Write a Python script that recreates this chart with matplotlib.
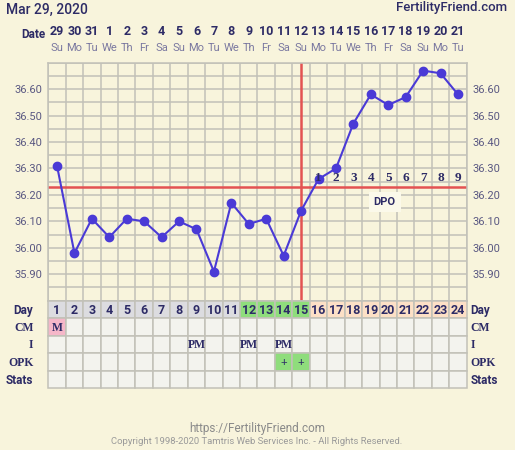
import matplotlib
matplotlib.use('Agg')
import matplotlib.pyplot as plt
from matplotlib.patches import Rectangle
from matplotlib.transforms import blended_transform_factory

# chart data
days = list(range(1, 25))
dates = ['29', '30', '31', '1', '2', '3', '4', '5', '6', '7', '8', '9',
         '10', '11', '12', '13', '14', '15', '16', '17', '18', '19', '20', '21']
weekdays = ['Su', 'Mo', 'Tu', 'We', 'Th', 'Fr', 'Sa'] * 3 + ['Su', 'Mo', 'Tu']
temps = [36.31, 35.98, 36.11, 36.04, 36.11, 36.10, 36.04, 36.10, 36.07, 35.91,
         36.17, 36.09, 36.11, 35.97, 36.14, 36.26, 36.30, 36.47, 36.58, 36.54,
         36.57, 36.67, 36.66, 36.58]
coverline = 36.23
ovulation_day = 15
dpo = list(range(1, 10))
ytick_vals = [35.90, 36.00, 36.10, 36.20, 36.30, 36.40, 36.50, 36.60]
row_names = ['Day', 'CM', 'I', 'OPK', 'Stats']
fertile_days = [12, 13, 14, 15]
cm_marks = {1: 'M'}
intercourse = {9: 'PM', 12: 'PM', 14: 'PM'}
opk = {14: '+', 15: '+'}

W, H = 515, 450
BG = '#f8f4dc'
GRID = '#c2c1b8'
NAVY = '#2d2b66'
LABEL = '#5a5882'
RED = '#e35252'
LINE = '#4a3ad6'
SANS = ['Roboto', 'DejaVu Sans']
SERIF = ['Liberation Serif', 'DejaVu Serif']

plt.rcParams['font.family'] = SANS

def rect(x0, y0, x1, y1):
    return [x0 / W, 1 - y1 / H, (x1 - x0) / W, (y1 - y0) / H]

fig = plt.figure(figsize=(W / 100, H / 100), dpi=100, facecolor=BG)

# main temperature chart
ax = fig.add_axes(rect(48.3, 62.7, 466.7, 300.7))
ax.set_facecolor(BG)
ax.set_xlim(0.5, 24.5)
ax.set_ylim(35.80, 36.70)
for x in [d + 0.5 for d in range(0, 25)]:
    ax.axvline(x, color=GRID, lw=1.1, zorder=1)
k = 0
while 35.80 + k * 0.05 <= 36.7001:
    ax.axhline(35.80 + k * 0.05, color=GRID, lw=1.1, zorder=1)
    k += 1
for s in ax.spines.values():
    s.set_color(GRID)
    s.set_linewidth(1.1)
ax.set_xticks([])
ax.set_yticks(ytick_vals)
ax.set_yticklabels(['%.2f' % v for v in ytick_vals])
ax.tick_params(axis='y', length=0, pad=4, labelsize=8, labelcolor=LABEL,
               left=True, right=True, labelleft=True, labelright=True)

ax.axhline(coverline, color=RED, lw=1.8, zorder=2)
ax.axvline(ovulation_day, color=RED, lw=1.8, zorder=2)
ax.plot(days, temps, color=LINE, lw=1.5, marker='o', markersize=6, zorder=3)

for i, n in enumerate(dpo):
    ax.text(ovulation_day + 1 + i, coverline + 0.035, str(n), ha='center', va='center',
            fontsize=9.5, fontweight='bold', family=SERIF, color=NAVY, zorder=4)
ax.text(19.8, coverline - 0.055, 'DPO', ha='center', va='center', fontsize=8,
        fontweight='bold', color=NAVY, zorder=4,
        bbox=dict(boxstyle='square,pad=0.45', facecolor='#fbf9ea', edgecolor='none'))

# header rows
tr = blended_transform_factory(ax.transData, fig.transFigure)
for d, lab, wd in zip(days, dates, weekdays):
    ax.text(d, 1 - 31.7 / H, lab, transform=tr, ha='center', va='center',
            fontsize=9, fontweight='bold', color=NAVY)
    ax.text(d, 1 - 48.3 / H, wd, transform=tr, ha='center', va='center',
            fontsize=8, color='#7a78a0')
fig.text(45 / W, 1 - 34 / H, 'Date', ha='right', va='center', fontsize=8.5,
         fontweight='bold', color=NAVY)
fig.text(6 / W, 1 - 10 / H, 'Mar 29, 2020', ha='left', va='center', fontsize=10,
         fontweight='medium', color=NAVY)
fig.text(507 / W, 1 - 8 / H, 'FertilityFriend.com', ha='right', va='center',
         fontsize=9.5, fontweight='medium', color=NAVY)

# table below chart
tab = fig.add_axes(rect(48.3, 300.7, 466.7, 388))
tab.set_xlim(0.5, 24.5)
tab.set_ylim(len(row_names), 0)
tab.axis('off')
for r, name in enumerate(row_names):
    for d in days:
        fc = '#f3f3ee'
        txt = ''
        if name == 'Day':
            fc = '#8fdd7c' if d in fertile_days else ('#fde0c6' if d > ovulation_day else '#dcdce0')
            txt = str(d)
        elif name == 'CM' and d in cm_marks:
            fc = '#f5b7c9'
            txt = cm_marks[d]
        elif name == 'I' and d in intercourse:
            txt = intercourse[d]
        elif name == 'OPK' and d in opk:
            fc = '#8fdd7c'
            txt = opk[d]
        tab.add_patch(Rectangle((d - 0.5, r), 1, 1, facecolor=fc, edgecolor=GRID,
                                lw=1.1, clip_on=False))
        if txt:
            if name == 'Day':
                tab.text(d, r + 0.55, txt, ha='center', va='center', fontsize=9,
                         fontweight='bold', color=NAVY)
            else:
                tab.text(d, r + 0.55, txt, ha='center', va='center', fontsize=8.5,
                         fontweight='bold', family=SERIF, color=NAVY)
    fam = SANS if name in ('Day', 'Stats') else SERIF
    tab.text(-0.35, r + 0.55, name, ha='right', va='center', fontsize=8.5,
             fontweight='bold', family=fam, color=NAVY)
    tab.text(24.7, r + 0.55, name, ha='left', va='center', fontsize=8.5,
             fontweight='bold', family=fam, color=NAVY)

# footer
fig.text(257 / W, 1 - 428.3 / H, 'https://FertilityFriend.com', ha='center',
         va='center', fontsize=8.5, color='#8a8a8a')
fig.text(257 / W, 1 - 441.7 / H,
         'Copyright 1998-2020 Tamtris Web Services Inc. - All Rights Reserved.',
         ha='center', va='center', fontsize=6.8, color='#9a9a9a')

fig.savefig('out.png', dpi=100, facecolor=BG)
